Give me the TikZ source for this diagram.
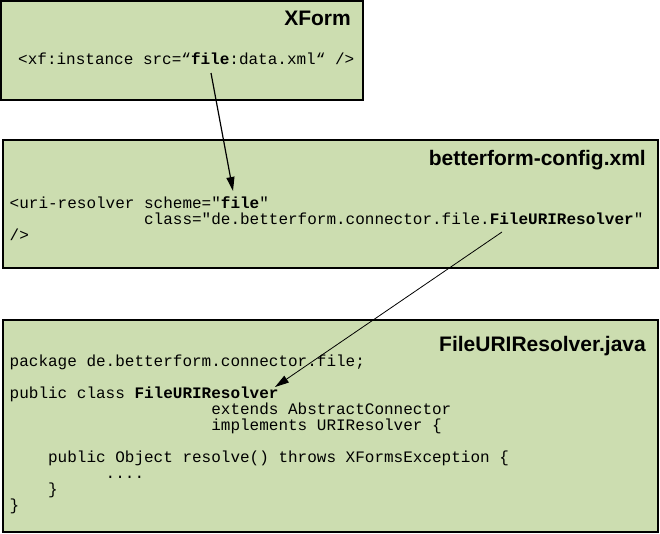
\documentclass[tikz,border=0pt]{standalone}
\usepackage{fontspec}
\setsansfont{Liberation Sans}
\setmonofont{Liberation Mono}
\usepackage{tikz}
\usetikzlibrary{arrows.meta, positioning}
\definecolor{PanelGreen}{HTML}{CCDDB0}
\newcommand{\codeindent}[1]{\hspace*{#1\dimexpr0.6em\relax}}
\newcommand{\firstline}{\rule{0pt}{14pt}}
\tikzset{
  panelbox/.style={rectangle, draw=black, line width=1.6pt, fill=PanelGreen, inner sep=0pt},
  paneltitle/.style={font=\sffamily\bfseries\fontsize{21}{24}\selectfont, inner sep=0pt, anchor=base east},
  codetext/.style={font=\ttfamily\fontsize{16}{16}\selectfont, align=left, inner sep=0pt, anchor=north west},
  linkarrow/.style={-{Triangle[length=14pt, width=8pt]}, line width=1pt, black}
}

\begin{document}
\begin{tikzpicture}[x=1pt, y=-1pt]
  \useasboundingbox (0,0) rectangle (660,533);

  % the three panels
  \node[panelbox, minimum width=362pt, minimum height=99pt] (xform) at (182,50.5) {};
  \node[panelbox, minimum width=655pt, minimum height=128pt] (config) at (330.5,204) {};
  \node[panelbox, minimum width=655pt, minimum height=212pt] (java) at (330.5,426) {};

  % titles
  \node[paneltitle] (xformtitle) at (351,25) {XForm};
  \node[paneltitle] (configtitle) at (646,165) {betterform-config.xml};
  \node[paneltitle] (javatitle) at (646,351) {FileURIResolver.java};

  % code
  \node[codetext] (xformcode) at (18,64-14) {\firstline<xf:instance src=“\textbf{file}:data.xml“ />};
  \node[codetext] (configcode) at (9.5,208-14) {\firstline<uri-resolver scheme="\textbf{file}"\\
    \codeindent{14}class="de.betterform.connector.file.\textbf{FileURIResolver}"\\
    />};
  \node[codetext] (javacode) at (9.5,366-14) {\firstline package de.betterform.connector.file;\\[16pt]
    public class \textbf{FileURIResolver}\\
    \codeindent{21}extends AbstractConnector\\
    \codeindent{21}implements URIResolver \{\\[16pt]
    \codeindent{4}public Object resolve() throws XFormsException \{\\
    \codeindent{10}....\\
    \codeindent{4}\}\\
    \}};

  % links
  \coordinate (srcfile) at (211,73);
  \coordinate (schemefile) at (233,191);
  \coordinate (classname) at (502,232);
  \coordinate (javaclass) at (275,387);
  \draw[linkarrow, line width=1.2pt] (srcfile) -- (schemefile);
  \draw[linkarrow, line width=0.8pt] (classname) -- (javaclass);
\end{tikzpicture}
\end{document}
